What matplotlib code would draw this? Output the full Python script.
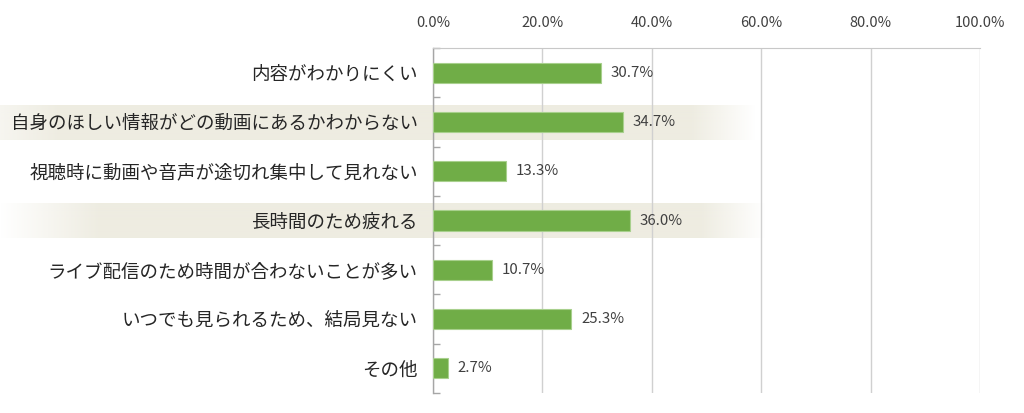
import numpy as np
import matplotlib
matplotlib.use("Agg")
import matplotlib.pyplot as plt
from matplotlib.colors import to_rgb

plt.rcParams['font.family'] = ['Noto Sans CJK JP', 'DejaVu Sans']

categories = [
    "内容がわかりにくい",
    "自身のほしい情報がどの動画にあるかわからない",
    "視聴時に動画や音声が途切れ集中して見れない",
    "長時間のため疲れる",
    "ライブ配信のため時間が合わないことが多い",
    "いつでも見られるため、結局見ない",
    "その他",
]
values = [30.7, 34.7, 13.3, 36.0, 10.7, 25.3, 2.7]
xticks = [0, 20, 40, 60, 80, 100]
xtick_labels = ["0.0%", "20.0%", "40.0%", "60.0%", "80.0%", "100.0%"]
highlight_rows = [1, 3]

fig = plt.figure(figsize=(10.24, 4.13), dpi=100)
ax = fig.add_axes([433/1024, 1-393/413, (980-433)/1024, (393-48)/413])

y = np.arange(len(categories))
ax.barh(y, values, height=0.41, color="#70AD47", edgecolor="#A8D08D",
        linewidth=0.8, zorder=3)

for yi, v in zip(y, values):
    ax.text(v + 1.8, yi, f"{v:.1f}%", va="center", ha="left",
            fontsize=10.8, color="#404040", zorder=4)

ax.set_xlim(0, 100)
ax.set_ylim(len(categories) - 0.5, -0.5)
ax.set_xticks(xticks)
ax.set_xticklabels(xtick_labels)
ax.xaxis.tick_top()
ax.tick_params(axis="x", length=0, pad=13, labelsize=10.5, labelcolor="#404040")
ax.set_yticks(y)
ax.set_yticklabels(categories)
ax.tick_params(axis="y", which="major", length=0, pad=11, labelsize=13.3,
               labelcolor="#262626")
ax.set_yticks(np.arange(-0.5, len(categories) + 0.5, 1), minor=True)
ax.tick_params(axis="y", which="minor", direction="in", length=5,
               color="#A6A6A6", width=1)

ax.grid(axis="x", color="#D0D0D0", linewidth=1)
ax.set_axisbelow(True)
for s in ["bottom", "right"]:
    ax.spines[s].set_visible(False)
ax.spines["top"].set_color("#C8C8C8")
ax.spines["left"].set_color("#A6A6A6")
ax.spines["left"].set_linewidth(1)

# highlight bands (gradient)
band_rgb = np.array(to_rgb("#EEECE1"))
def band_img(a0, x_in, x_out_start, x_out_end, n=1024):
    px = np.arange(n)
    alpha = np.ones(n)
    alpha = np.where(px < x_in, a0 + (1 - a0) * px / x_in, alpha)
    fade = np.clip((x_out_end - px) / (x_out_end - x_out_start), 0, 1)
    alpha = np.where(px > x_out_start, fade, alpha)
    img = np.zeros((1, n, 4))
    img[0, :, :3] = band_rgb
    img[0, :, 3] = alpha
    return img

params = [(0.5, 60, 690, 755), (0.0, 100, 700, 765)]
for row, p in zip(highlight_rows, params):
    img = band_img(*p)
    x_left = (0 - 433) / 547 * 100
    x_right = (1024 - 433) / 547 * 100
    ax.imshow(img, extent=[x_left, x_right, row + 0.36, row - 0.35],
              aspect="auto", clip_on=False, zorder=0.1, interpolation="bilinear")

ax.set_xlim(0, 100)
ax.set_ylim(len(categories) - 0.5, -0.5)

fig.savefig("out.png", dpi=100)
